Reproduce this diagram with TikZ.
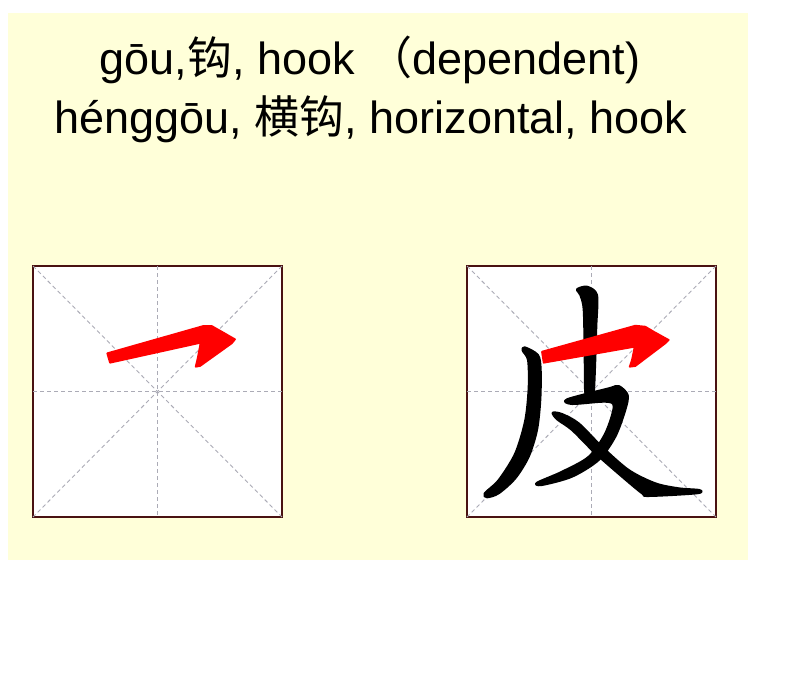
\documentclass[tikz,border=0pt]{standalone}
\usepackage{fontspec}
\setmainfont{Liberation Sans}
\newfontfamily\cjk{Noto Sans CJK SC}
\definecolor{bgyellow}{HTML}{FFFFD9}
\definecolor{boxbrown}{HTML}{4A1212}
\definecolor{guide}{HTML}{ABABB6}
\begin{document}
\begin{tikzpicture}[x=1pt,y=-1pt,
  gridbox/.style={draw=boxbrown,line width=2.7pt,fill=white,minimum width=249pt,minimum height=251pt,anchor=north west,inner sep=0pt,outer sep=0pt},
  guideline/.style={draw=guide,line width=0.9pt,dash pattern=on 4pt off 3pt},
  redstroke/.style={fill=red,draw=red,line width=1.8pt,line join=round},
  blackstroke/.style={fill=black,draw=black,line width=2pt,line join=round},
  txt/.style={font=\fontsize{45}{52}\selectfont,anchor=base,inner sep=0pt}]
\useasboundingbox (0,0) rectangle (800,672);
\fill[bgyellow] (8,13) rectangle (748,560);

\node[txt] (t1) at (370,74) {gōu,{\cjk 钩}, hook {\cjk （}dependent)};
\node[txt] (t2) at (371,133) {hénggōu, {\cjk 横钩}, horizontal, hook};

\node[gridbox] (boxA) at (33,266) {};
\node[gridbox] (boxB) at (467,266) {};

\foreach \b in {boxA,boxB}{
  \draw[guideline] (\b.north west) -- (\b.south east);
  \draw[guideline] (\b.north east) -- (\b.south west);
  \draw[guideline] (\b.north) -- (\b.south);
  \draw[guideline] (\b.west) -- (\b.east);
}

% red hook in left box
\filldraw[redstroke] (107.3,353.3) -- (203.3,326) -- (211.7,326) -- (220,330.7) -- (235,339.3) -- (231.7,343.3) -- (200,366) -- (195.7,366.7) -- (197.7,358.3) -- (200.7,342.7) -- (110,362.7) -- cycle;

% black strokes of the character in right box
\filldraw[blackstroke] plot[smooth cycle,tension=0.5] coordinates {(522.7,350.7) (524.7,347.3) (538,355) (540.7,370) (540.3,400) (537,430) (528.7,456.7) (515.3,478.3) (498.7,493.3) (487,497.3) (484.7,493.3) (498.7,480) (515.3,453.3) (525.3,420) (528.7,386.7) (528,360)};
\filldraw[blackstroke] plot[smooth cycle,tension=0.5] coordinates {(577,289.3) (587,286.7) (597,295) (596.3,326.7) (595.3,360) (593.7,393.3) (590.3,400) (585.3,393.3) (584.7,360) (583.7,310) (580.3,295)};
\filldraw[blackstroke] plot[smooth cycle,tension=0.5] coordinates {(567,399.3) (608.7,388.3) (618.7,386) (627.7,395) (625.3,410) (615.3,436.7) (598.7,460) (572,476.7) (542,485) (537,482.7) (562,471.7) (588.7,456.7) (605.3,433.3) (613.7,406.7) (605.3,401.7) (572,404)};
\filldraw[blackstroke] plot[smooth cycle,tension=0.5] coordinates {(552.7,412.7) (562,414) (578.7,423.3) (602,446.7) (628.7,470) (655.3,483.3) (678.7,488.3) (699.3,490) (697,493.3) (648.7,496) (642,493.3) (622,476.7) (595.3,453.3) (572,430) (557,419.3)};

% red hook in right box
\filldraw[redstroke] (542,351.7) -- (635.3,325.7) -- (645.3,326.7) -- (653.7,331.7) -- (668.7,340) -- (665.3,343.3) -- (635.3,366) -- (629.7,366.7) -- (632,360) -- (634.7,346.7) -- (543.7,362.7) -- cycle;
\end{tikzpicture}
\end{document}
